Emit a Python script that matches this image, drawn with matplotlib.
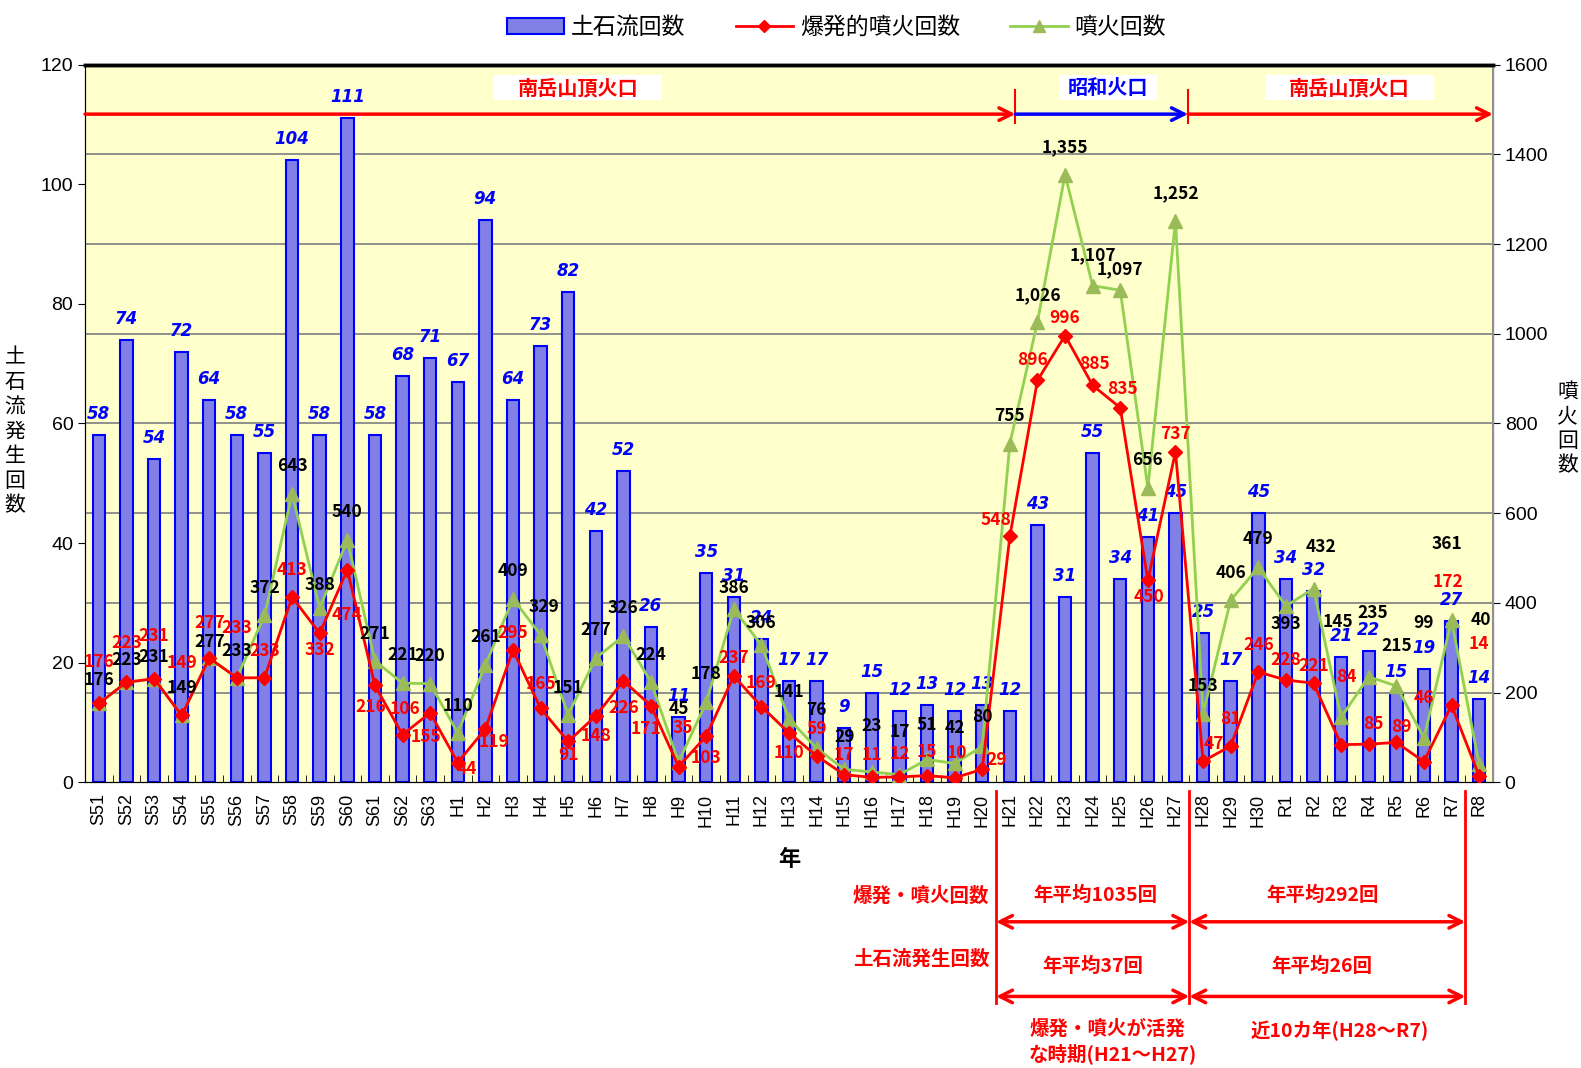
import numpy as np
import matplotlib; matplotlib.use("Agg")
import matplotlib.pyplot as plt
import matplotlib.transforms as mtransforms
from matplotlib.patches import Rectangle, Patch
from matplotlib.lines import Line2D

plt.rcParams['font.family'] = ['Noto Sans CJK JP', 'DejaVu Sans']

# --- data ---
years = (["S%d" % y for y in range(51, 64)] + ["H%d" % y for y in range(1, 31)]
         + ["R%d" % y for y in range(1, 9)])
debris = [58, 74, 54, 72, 64, 58, 55, 104, 58, 111, 58, 68, 71,
          67, 94, 64, 73, 82, 42, 52, 26, 11, 35, 31, 24, 17, 17, 9, 15, 12, 13, 12, 13,
          12, 43, 31, 55, 34, 41, 45, 25, 17, 45,
          34, 32, 21, 22, 15, 19, 27, 14]
explosive = [176, 223, 231, 149, 277, 233, 233, 413, 332, 474, 216, 106, 155,
             44, 119, 295, 165, 91, 148, 226, 171, 35, 103, 237, 169, 110, 59, 17, 11, 12, 15, 10, 29,
             548, 896, 996, 885, 835, 450, 737, 47, 81, 246,
             228, 221, 84, 85, 89, 46, 172, 14]
eruptions = [176, 223, 231, 149, 277, 233, 372, 643, 388, 540, 271, 221, 220,
             110, 261, 409, 329, 151, 277, 326, 224, 45, 178, 386, 306, 141, 76, 29, 23, 17, 51, 42, 80,
             755, 1026, 1355, 1107, 1097, 656, 1252, 153, 406, 479,
             393, 432, 145, 235, 215, 99, 361, 40]

# label offsets in pixels (dx, dy) - placement as in the source sheet
off_red = [(0,41),(0,39),(0,43),(0,52),(0,35),(0,50),(0,27),(0,27),(0,-17),(0,-45),(-4,-22),(2,26),(-4,-24),
           (9,-6),(9,-13),(0,17),(0,24),(0,-14),(0,-20),(0,-27),(-5,-23),(4,39),(0,-22),(0,18),(0,24),(0,-20),
           (0,27),(0,20),(0,22),(0,23),(0,24),(2,25),(14,9),
           (-14,16),(-5,20),(0,18),(2,21),(2,19),(1,-17),(0,18),(11,17),(0,27),(0,27),
           (0,20),(0,17),(5,68),(5,20),(5,15),(0,64),(-4,123),(0,132)]
off_grn = [(0,23),(0,22),(0,22),(0,27),(0,16),(0,27),(0,27),(0,28),(0,23),(0,28),(0,27),(0,28),(0,28),
           (0,27),(0,28),(0,28),(3,28),(0,27),(0,28),(0,28),(0,27),(0,53),(0,28),(0,21),(0,22),(0,27),
           (0,38),(0,32),(0,46),(0,43),(0,34),(0,35),(0,29),
           (0,28),(0,27),(0,27),(0,31),(0,21),(0,28),(0,27),(0,28),(0,27),(0,28),
           (0,-18),(7,42),(-3,95),(4,64),(0,40),(0,115),(-5,76),(2,144)]

x = np.arange(len(years))
fig = plt.figure(figsize=(15.81, 10.68), dpi=100)
ax = fig.add_axes([0.0538, 0.2675, 0.8905, 0.672])
ax.set_facecolor('#ffffcc')
ax2 = ax.twinx()

# gridlines follow right axis
for v in range(200, 1600, 200):
    ax.axhline(v * 120 / 1600, color='#888888', lw=1.3, zorder=0)

ax.bar(x, debris, width=0.45, color='#8080e6', edgecolor='#0000ff', lw=1.5, zorder=2)
ax.set_ylim(0, 120)
ax.set_xlim(-0.5, len(years) - 0.5)
ax.set_yticks(range(0, 121, 20))
ax.set_xticks(x)
ax.set_xticklabels(years, rotation=90, family='Liberation Sans', fontsize=13)
ax.set_xticks(np.arange(-0.5, len(years), 1), minor=True)
ax.tick_params(axis='x', which='major', length=0, pad=8)
ax.tick_params(axis='x', which='minor', direction='in', length=5)
ax.tick_params(axis='y', labelsize=14, length=5)
for lab in ax.get_yticklabels():
    lab.set_family('Liberation Sans')

ax2.plot(x, explosive, color='#ff0000', lw=2, marker='D', ms=7, zorder=4)
ax2.plot(x, eruptions, color='#92d050', lw=2, marker='^', ms=10, mfc='#9bbb59', mec='#9bbb59', zorder=3)
ax2.set_ylim(0, 1600)
ax2.set_yticks(range(0, 1601, 200))
ax2.tick_params(axis='y', labelsize=14, length=5)
for lab in ax2.get_yticklabels():
    lab.set_family('Liberation Sans')

ax.spines['top'].set_linewidth(2.5)
ax2.spines['top'].set_linewidth(2.5)
ax2.spines['right'].set_color('#909090')
ax2.spines['right'].set_linewidth(1.5)

# value labels
for i in range(len(years)):
    ax.annotate(str(debris[i]), (x[i], debris[i]), xytext=(0, 21), textcoords='offset pixels',
                ha='center', va='center', color='#0000ff', fontsize=12, fontweight='bold',
                style='italic', family='DejaVu Sans', zorder=6)
    ax2.annotate(f"{eruptions[i]:,}", (x[i], eruptions[i]), xytext=off_grn[i], textcoords='offset pixels',
                 ha='center', va='center', color='black', fontsize=12.5, fontweight='bold', zorder=6)
    ax2.annotate(str(explosive[i]), (x[i], explosive[i]), xytext=off_red[i], textcoords='offset pixels',
                 ha='center', va='center', color='#ff0000', fontsize=12.5, fontweight='bold', zorder=6)

# crater period arrows on top
tb = mtransforms.blended_transform_factory(ax2.transData, ax2.transAxes)
ya = 0.931
arr = dict(arrowstyle='->,head_length=0.9,head_width=0.45', lw=2.5, shrinkA=0, shrinkB=0)
ax2.annotate('', xy=(33.2, ya), xytext=(-0.5, ya), xycoords=tb, arrowprops=dict(arr, color='#ff0000'))
ax2.annotate('', xy=(39.45, ya), xytext=(33.2, ya), xycoords=tb, arrowprops=dict(arr, color='#0000ff'))
ax2.annotate('', xy=(50.5, ya), xytext=(39.45, ya), xycoords=tb, arrowprops=dict(arr, color='#ff0000'))
for xv in (33.2, 39.45):
    ax2.plot([xv, xv], [0.919, 0.964], transform=tb, color='#ff0000', lw=1.5, clip_on=False)
for (x0, x1, txt, col) in [(14.31, 20.40, '南岳山頂火口', '#ff0000'),
                           (34.78, 38.32, '昭和火口', '#0000ff'),
                           (42.26, 48.36, '南岳山頂火口', '#ff0000')]:
    ax2.add_patch(Rectangle((x0, 0.951), x1 - x0, 0.034, transform=tb, facecolor='white',
                            edgecolor='none', zorder=5))
    ax2.text((x0 + x1) / 2, 0.968, txt, transform=tb, ha='center', va='center', color=col,
             fontsize=14.5, fontweight='bold', zorder=6)

# axis titles
fig.text(0.5, 0.1955, '年', ha='center', va='center', fontsize=16, fontweight='bold',
         transform=mtransforms.blended_transform_factory(ax.transAxes, fig.transFigure))
fig.text(0.0096, 0.596, '\n'.join('土石流発生回数'), ha='center', va='center', fontsize=15,
         linespacing=1.15)
fig.text(0.9917, 0.599, '\n'.join('噴火回数'), ha='center', va='center', fontsize=15,
         linespacing=1.15)

# bottom period annotations
bt = mtransforms.blended_transform_factory(ax.transData, fig.transFigure)
red = '#ff0000'
for xv in (32.5, 39.5, 49.5):
    ax.plot([xv, xv], [0.2597, 0.0604], transform=bt, color=red, lw=2, clip_on=False)
darr = dict(arrowstyle='<->,head_length=0.9,head_width=0.45', lw=2.5, color=red, shrinkA=0, shrinkB=0)
for yv in (0.1369, 0.067):
    ax.annotate('', xy=(39.5, yv), xytext=(32.5, yv), xycoords=bt, arrowprops=darr, annotation_clip=False)
    ax.annotate('', xy=(49.5, yv), xytext=(39.5, yv), xycoords=bt, arrowprops=darr, annotation_clip=False)
kw = dict(transform=bt, color=red, fontsize=14, fontweight='bold', va='center')
ax.text(32.26, 0.1605, '爆発・噴火回数', ha='right', **kw)
ax.text(32.26, 0.102, '土石流発生回数', ha='right', **kw)
ax.text(36.1, 0.1615, '年平均1035回', ha='center', **kw)
ax.text(44.34, 0.1615, '年平均292回', ha='center', **kw)
ax.text(36.02, 0.0954, '年平均37回', ha='center', **kw)
ax.text(44.3, 0.0954, '年平均26回', ha='center', **kw)
ax.text(33.7, 0.0245, '爆発・噴火が活発\nな時期(H21～H27)', ha='left', linespacing=1.25, **kw)
ax.text(44.96, 0.035, '近10カ年(H28～R7)', ha='center', **kw)

# legend
handles = [Patch(facecolor='#8080e6', edgecolor='#0000ff', lw=1.5),
           Line2D([], [], color='#ff0000', lw=2, marker='D', ms=6),
           Line2D([], [], color='#92d050', lw=2, marker='^', ms=8, mfc='#9bbb59', mec='#9bbb59')]
fig.legend(handles, ['土石流回数', '爆発的噴火回数', '噴火回数'], loc='center',
           bbox_to_anchor=(0.529, 0.9745), ncol=3, frameon=False, fontsize=16.5,
           columnspacing=2.2, handlelength=2.5, handletextpad=0.3)

fig.savefig('out.png', dpi=100)
